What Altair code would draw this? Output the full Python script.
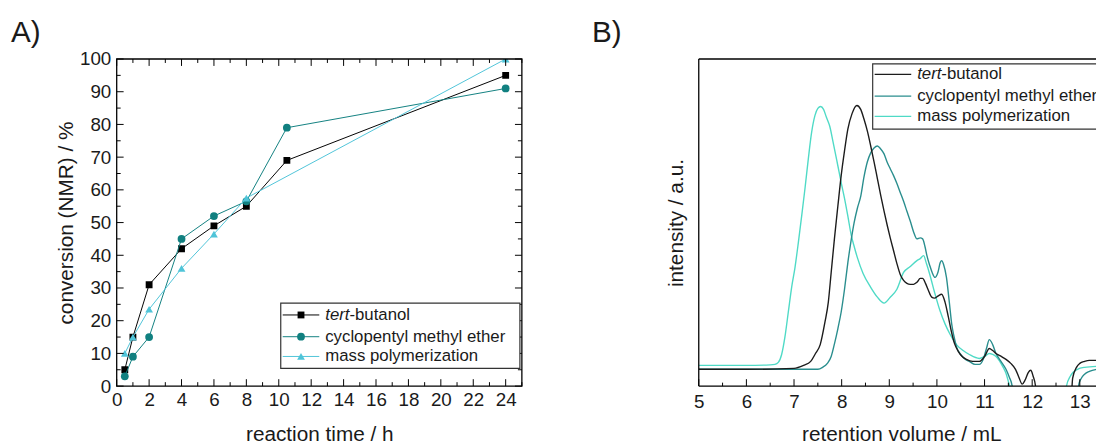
import altair as alt
import pandas as pd

FONT = "Liberation Sans"
TXT = "#1a1a1a"

# ---------------- Panel A: conversion vs reaction time ----------------
a_time_tb = [0.5, 1, 2, 4, 6, 8, 10.5, 24]
a_conv_tb = [5, 15, 31, 42, 49, 55, 69, 95]
a_time_cpme = [0.5, 1, 2, 4, 6, 8, 10.5, 24]
a_conv_cpme = [3, 9, 15, 45, 52, 56.5, 79, 91]
a_time_mass = [0.5, 1, 2, 4, 6, 8, 24]
a_conv_mass = [10, 15, 23.5, 36, 46.5, 57.5, 100]

a_x_labels = list(range(0, 25, 2))
a_x_minor = list(range(1, 26, 2))
a_y_labels = list(range(0, 101, 10))
a_y_minor = list(range(5, 100, 10))

# ---------------- Panel B: GPC traces ----------------
b_vol_tb = [5.0, 6.0, 7.0, 7.2, 7.35, 7.45, 7.55, 7.65, 7.72, 7.78, 7.85, 7.92, 7.99, 8.06,
            8.13, 8.22, 8.32, 8.4, 8.47, 8.54, 8.61, 8.68, 8.75, 8.82, 8.89, 8.96, 9.02, 9.09,
            9.16, 9.23, 9.3, 9.37, 9.44, 9.51, 9.58, 9.65, 9.7, 9.76, 9.82, 9.89, 9.95, 10.02,
            10.1, 10.17, 10.24, 10.3, 10.37, 10.45, 10.53, 10.62, 10.75, 10.89, 11.0, 11.1,
            11.17, 11.24, 11.35, 11.45, 11.55, 11.65, 11.72, 11.79, 11.85, 11.92, 11.97, 12.02,
            12.07, 12.1, 12.8, 12.85, 12.93, 13.0, 13.1, 13.2, 13.35]
b_int_tb = [17, 17, 18, 21, 25, 33, 42, 65, 85, 115, 150, 182, 213, 238,
            260, 276, 284, 280, 270, 258, 243, 227, 210, 193, 177, 162, 150, 137,
            124, 113, 107, 104, 103, 103, 105, 109, 109, 104, 97, 90, 89, 91,
            93, 85, 70, 56, 43, 35, 30, 27, 25, 25, 30, 38,
            36, 33, 30, 27, 23, 17, 9, 2, 6, 14, 16, 10,
            0, -25, -25, 8, 19, 23, 25, 26, 26]

b_vol_cpme = [5.0, 6.0, 7.0, 7.5, 7.6, 7.7, 7.78, 7.85, 7.92, 7.99, 8.06, 8.13, 8.2, 8.26,
              8.33, 8.4, 8.47, 8.54, 8.61, 8.68, 8.75, 8.82, 8.89, 8.96, 9.02, 9.09, 9.16,
              9.23, 9.3, 9.37, 9.44, 9.51, 9.58, 9.65, 9.7, 9.75, 9.79, 9.85, 9.9, 9.96,
              10.02, 10.07, 10.1, 10.14, 10.2, 10.26, 10.31, 10.36, 10.41, 10.5, 10.6, 10.68,
              10.8, 10.89, 10.97, 11.04, 11.1, 11.17, 11.24, 11.33, 11.45, 11.52, 11.58, 11.62,
              12.95, 12.98, 13.02, 13.1, 13.2, 13.35]
b_int_cpme = [17, 17, 17, 17, 19, 23, 30, 43, 58, 75, 98, 125, 148, 165,
              180, 192, 212, 227, 236, 241, 243, 240, 235, 226, 220, 213, 205,
              196, 187, 177, 167, 156, 149, 150, 149, 141, 132, 122, 115, 110,
              115, 125, 127, 123, 110, 85, 63, 50, 40, 32, 27, 25,
              22, 22, 27, 38, 47, 42, 33, 26, 17, 9, 0, -25,
              -25, 2, 7, 12, 15, 17]

b_vol_mass = [5.0, 6.0, 6.5, 6.6, 6.67, 6.74, 6.81, 6.88, 6.95, 7.02, 7.09, 7.16, 7.23, 7.3,
              7.37, 7.44, 7.5, 7.56, 7.62, 7.68, 7.75, 7.82, 7.92, 7.99, 8.06, 8.13, 8.2,
              8.27, 8.33, 8.45, 8.61, 8.75, 8.89, 9.02, 9.16, 9.3, 9.44, 9.58, 9.65, 9.72,
              9.78, 9.85, 9.95, 10.06, 10.17, 10.27, 10.41, 10.55, 10.68, 10.89, 11.0, 11.1,
              11.17, 11.24, 11.38, 11.45, 11.51, 11.56, 11.6, 12.68, 12.72, 12.8, 12.86,
              12.95, 13.1, 13.35]
b_int_mass = [21, 21, 21.5, 22, 24, 32, 50, 75, 100, 120, 145, 172, 200, 230,
              257, 274, 281, 283, 280, 272, 263, 247, 223, 206, 190, 172, 153,
              140, 130, 114, 100, 90, 84, 90, 98, 115, 121, 127, 129, 132,
              124, 113, 95, 77, 63, 53, 42, 36, 32, 28, 30, 33,
              32, 30, 20, 13, 3, -5, -25, -25, 0, 10, 14,
              17, 19, 20]

b_x_labels = list(range(5, 14))
b_x_minor = [5.5, 6.5, 7.5, 8.5, 9.5, 10.5, 11.5, 12.5]

legend_names = ["tert-butanol", "cyclopentyl methyl ether", "mass polymerization"]

# colours
A_COLORS = ["#000000", "#118080", "#4fc4d8"]
B_COLORS = ["#1c1c1c", "#2a8e8e", "#4fdac6"]

WA, HA = 410, 331
WB, HB = 402, 331
LEG_FS = 17
TERT_W = 24.5
one = pd.DataFrame({"k": [0]})

sxA = alt.Scale(domain=[0, 25], nice=False, zero=False)
syA = alt.Scale(domain=[0, 100], nice=False, zero=False)
sxB = alt.Scale(domain=[5, 5 + WB / 48.2], nice=False, zero=False)
syB = alt.Scale(domain=[0, 331], nice=False, zero=False)

axXA = alt.Axis(values=a_x_labels, title="reaction time / h", ticks=False, tickSize=0, domain=False,
                labelPadding=5, labelFlush=False, labelOverlap=False,
                titleX=WA / 2, titleY=55, titleBaseline="alphabetic")
axYA = alt.Axis(values=a_y_labels, title="conversion (NMR) / %", ticks=False, tickSize=0, domain=False,
                labelPadding=6, labelOverlap=False,
                titleX=-45, titleY=HA / 2, titleBaseline="alphabetic", titleAngle=270)
axXB = alt.Axis(values=b_x_labels, title="retention volume / mL", ticks=False, tickSize=0, domain=False,
                labelPadding=7, labelFlush=False, labelOverlap=False,
                titleX=205, titleY=55, titleBaseline="alphabetic")
axYB = alt.Axis(title="intensity / a.u.", labels=False, ticks=False, tickSize=0, domain=False,
                titleX=-16, titleY=HB / 2, titleBaseline="alphabetic", titleAngle=270)


def X(scale, ax):
    return alt.X("x:Q", scale=scale, axis=ax)


def Y(scale, ax):
    return alt.Y("y:Q", scale=scale, axis=ax)


def xticks(vals, scale, ax, H, length, top=True):
    df = pd.DataFrame({"x": vals})
    layers = [alt.Chart(df).mark_rule(color="black", strokeWidth=1).encode(
        x=X(scale, ax), y=alt.value(H), y2=alt.value(H - length))]
    if top:
        layers.append(alt.Chart(df).mark_rule(color="black", strokeWidth=1).encode(
            x=X(scale, ax), y=alt.value(0), y2=alt.value(length)))
    return layers


def yticks(vals, scale, ax, W, length):
    df = pd.DataFrame({"y": vals})
    return [
        alt.Chart(df).mark_rule(color="black", strokeWidth=1).encode(
            y=Y(scale, ax), x=alt.value(0), x2=alt.value(length)),
        alt.Chart(df).mark_rule(color="black", strokeWidth=1).encode(
            y=Y(scale, ax), x=alt.value(W), x2=alt.value(W - length)),
    ]


def text_at(txt, x, y, size=LEG_FS, italic=False, align="left", baseline="middle", clip=False):
    kw = dict(text=txt, align=align, baseline=baseline, fontSize=size, font=FONT, color=TXT, clip=clip)
    if italic:
        kw["fontStyle"] = "italic"
    return alt.Chart(one).mark_text(**kw).encode(x=alt.value(x), y=alt.value(y))


# ---------- Panel A ----------
series_A = []
for t, c, col, shape, size in [
    (a_time_tb, a_conv_tb, A_COLORS[0], "square", 48),
    (a_time_cpme, a_conv_cpme, A_COLORS[1], "circle", 62),
    (a_time_mass, a_conv_mass, A_COLORS[2], "triangle-up", 62),
]:
    df = pd.DataFrame({"x": t, "y": c})
    base = alt.Chart(df).encode(x=X(sxA, axXA), y=Y(syA, axYA))
    series_A.append(base.mark_line(color=col, strokeWidth=1, clip=True))
    series_A.append(base.mark_point(shape=shape, filled=True, color=col, size=size, opacity=1, clip=True))

frameA = alt.Chart(one).mark_rect(filled=False, stroke="black", strokeWidth=1.3).encode(
    x=alt.value(0), x2=alt.value(WA), y=alt.value(0), y2=alt.value(HA))

legA = [alt.Chart(one).mark_rect(fill="white", stroke="#333333", strokeWidth=1.2).encode(
    x=alt.value(166), x2=alt.value(408), y=alt.value(247), y2=alt.value(313))]
rowsA = [259, 281, 301]
for i, (yy, shape, size) in enumerate(zip(rowsA, ["square", "circle", "triangle-up"], [48, 62, 62])):
    col = A_COLORS[i]
    legA.append(alt.Chart(one).mark_rule(color=col, strokeWidth=1).encode(
        x=alt.value(168), x2=alt.value(205), y=alt.value(yy)))
    legA.append(alt.Chart(one).mark_point(shape=shape, filled=True, color=col, size=size, opacity=1).encode(
        x=alt.value(186.5), y=alt.value(yy)))
legA.append(text_at("tert", 211, rowsA[0], italic=True))
legA.append(text_at("-butanol", 211 + TERT_W, rowsA[0]))
legA.append(text_at(legend_names[1], 211, rowsA[1]))
legA.append(text_at(legend_names[2], 211, rowsA[2]))

labelA = text_at("A)", -107, -17, size=30, baseline="alphabetic")

panelA = alt.layer(
    *series_A,
    *xticks(a_x_labels, sxA, axXA, HA, 7), *xticks(a_x_minor, sxA, axXA, HA, 4),
    *yticks(a_y_labels, syA, axYA, WA, 7), *yticks(a_y_minor, syA, axYA, WA, 4),
    *legA, frameA, labelA,
).properties(width=WA, height=HA)

# ---------- Panel B ----------
series_B = []
for v, it, col in [
    (b_vol_mass, b_int_mass, B_COLORS[2]),
    (b_vol_cpme, b_int_cpme, B_COLORS[1]),
    (b_vol_tb, b_int_tb, B_COLORS[0]),
]:
    df = pd.DataFrame({"x": v, "y": it})
    series_B.append(alt.Chart(df).mark_line(color=col, strokeWidth=1.4, clip=True,
                                            interpolate="monotone").encode(
        x=X(sxB, axXB), y=Y(syB, axYB)))

frameB = [
    alt.Chart(one).mark_rule(color="black", strokeWidth=1.3).encode(
        x=alt.value(0), x2=alt.value(WB), y=alt.value(0)),
    alt.Chart(one).mark_rule(color="black", strokeWidth=1.3).encode(
        x=alt.value(0), x2=alt.value(WB), y=alt.value(HB)),
    alt.Chart(one).mark_rule(color="black", strokeWidth=1.3).encode(
        x=alt.value(0), y=alt.value(0), y2=alt.value(HB)),
]

legB = [alt.Chart(one).mark_rect(fill="white", stroke="#333333", strokeWidth=1.2, clip=True).encode(
    x=alt.value(176), x2=alt.value(WB + 20), y=alt.value(5), y2=alt.value(71))]
rowsB = [15.5, 37.5, 58]
for i, yy in enumerate(rowsB):
    legB.append(alt.Chart(one).mark_rule(color=B_COLORS[i], strokeWidth=1.4).encode(
        x=alt.value(178), x2=alt.value(215), y=alt.value(yy)))
legB.append(text_at("tert", 221, rowsB[0], italic=True, clip=True))
legB.append(text_at("-butanol", 221 + TERT_W, rowsB[0], clip=True))
legB.append(text_at(legend_names[1], 221, rowsB[1], clip=True))
legB.append(text_at(legend_names[2], 221, rowsB[2], clip=True))

labelB = text_at("B)", -108, -17, size=30, baseline="alphabetic")

panelB = alt.layer(
    *series_B,
    *xticks(b_x_labels, sxB, axXB, HB, 7, top=False), *xticks(b_x_minor, sxB, axXB, HB, 3.5, top=False),
    *legB, *frameB, labelB,
).properties(width=WB, height=HB)

chart = alt.hconcat(panelA, panelB, spacing=179, bounds="flush").properties(
    padding={"left": 2, "top": 7, "right": 0, "bottom": 0}
).configure_axis(
    labelFont=FONT, titleFont=FONT, labelColor=TXT, titleColor=TXT,
    labelFontSize=19, titleFontSize=21, titleFontWeight="normal", grid=False,
).configure_view(stroke="transparent")

chart.save("out.html", embed_options={"renderer": "svg", "actions": False})
